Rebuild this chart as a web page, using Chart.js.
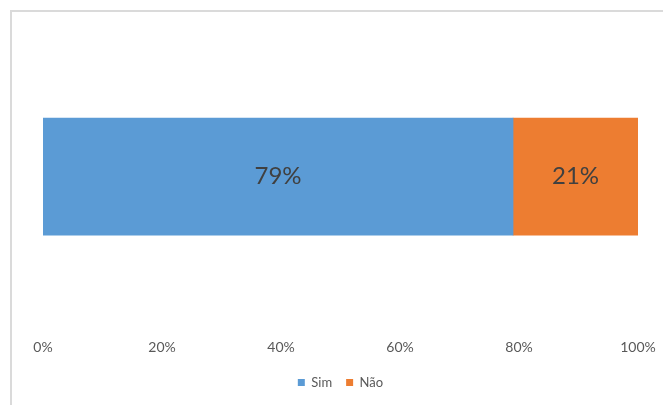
<!DOCTYPE html>
<html>
<head>
<meta charset="utf-8">
<script src="https://cdn.jsdelivr.net/npm/chart.js@4"></script>
<style>
    html, body { margin: 0; padding: 0; background: #fff; }
    #moldura {
        position: absolute; left: 0; top: 0; width: 663px; height: 405px; overflow: hidden;
    }
    #borda {
        position: absolute; left: 10px; top: 10px; width: 700px; height: 450px;
        border-top: 2px solid #dadada; border-left: 2px solid #dadada;
    }
    #grafico { position: absolute; left: 0; top: 0; }
</style>
</head>
<body>
<div id="moldura">
    <div id="borda"></div>
    <canvas id="grafico" width="663" height="405"></canvas>
</div>
<script>
// Dados do gráfico
const categorias = ['Resposta'];
const serieSim = [79];
const serieNao = [21];
const rotulosEixo = ['0%', '20%', '40%', '60%', '80%', '100%'];

// Escreve o percentual no centro de cada segmento da barra
const rotulosValores = {
    id: 'rotulosValores',
    afterDatasetsDraw(chart) {
        const ctx = chart.ctx;
        ctx.save();
        ctx.font = '24px Lato';
        ctx.fillStyle = '#404040';
        ctx.textAlign = 'center';
        ctx.textBaseline = 'middle';
        chart.data.datasets.forEach((ds, i) => {
            chart.getDatasetMeta(i).data.forEach((barra, j) => {
                const meio = (barra.x + barra.base) / 2;
                ctx.fillText(ds.data[j] + '%', meio, barra.y);
            });
        });
        ctx.restore();
    }
};

new Chart(document.getElementById('grafico'), {
    type: 'bar',
    data: {
        labels: categorias,
        datasets: [{
            label: 'Sim',
            data: serieSim,
            backgroundColor: '#5b9bd5',
            barThickness: 117
        }, {
            label: 'Não',
            data: serieNao,
            backgroundColor: '#ed7d31',
            barThickness: 117
        }]
    },
    options: {
        indexAxis: 'y',
        responsive: false,
        animation: false,
        layout: {
            padding: { left: 43, right: 25, top: 20, bottom: 6 }
        },
        scales: {
            x: {
                stacked: true,
                min: 0,
                max: 100,
                grid: { display: false, drawTicks: false },
                border: { display: false },
                ticks: {
                    stepSize: 20,
                    padding: 6,
                    color: '#595959',
                    font: { family: 'Lato', size: 14 },
                    callback: (v, i) => rotulosEixo[i]
                }
            },
            y: {
                stacked: true,
                display: false
            }
        },
        plugins: {
            legend: {
                position: 'bottom',
                labels: {
                    boxWidth: 7,
                    boxHeight: 7,
                    padding: 14,
                    color: '#595959',
                    font: { family: 'Lato', size: 13 }
                }
            },
            tooltip: { enabled: false }
        }
    },
    plugins: [rotulosValores]
});
</script>
</body>
</html>
